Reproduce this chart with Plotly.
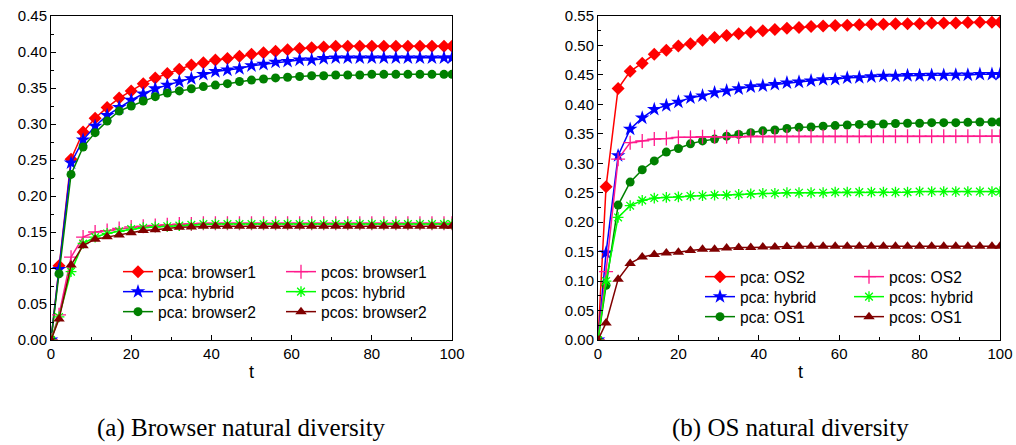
import plotly.graph_objects as go

t = [0, 2, 5, 8, 11, 14, 17, 20, 23, 26, 29, 32, 35, 38, 41, 44, 47, 50, 53, 56,
     59, 62, 65, 68, 71, 74, 77, 80, 83, 86, 89, 92, 95, 98, 100]

# (a) Browser natural diversity
pca_browser1 = [0, 0.103, 0.251, 0.289, 0.308, 0.323, 0.336, 0.346, 0.356, 0.364, 0.370, 0.376,
                0.382, 0.385, 0.389, 0.391, 0.394, 0.397, 0.399, 0.401, 0.403, 0.405, 0.406,
                0.407, 0.408, 0.408, 0.408, 0.408, 0.408, 0.408, 0.408, 0.408, 0.408, 0.408, 0.408]
pca_hybrid_a = [0, 0.098, 0.246, 0.278, 0.297, 0.312, 0.323, 0.333, 0.342, 0.349, 0.354, 0.359,
                0.363, 0.369, 0.373, 0.375, 0.377, 0.381, 0.383, 0.386, 0.387, 0.389, 0.389,
                0.391, 0.392, 0.392, 0.392, 0.392, 0.392, 0.392, 0.392, 0.392, 0.392, 0.392, 0.392]
pca_browser2 = [0, 0.092, 0.230, 0.268, 0.288, 0.304, 0.318, 0.325, 0.332, 0.338, 0.343, 0.346,
                0.349, 0.352, 0.354, 0.356, 0.359, 0.361, 0.3625, 0.364, 0.365, 0.366, 0.367,
                0.367, 0.368, 0.368, 0.368, 0.369, 0.369, 0.369, 0.369, 0.369, 0.369, 0.369, 0.369]
pcos_browser1 = [0, 0.035, 0.115, 0.143, 0.150, 0.152, 0.155, 0.157, 0.158, 0.159, 0.160, 0.161,
                 0.161, 0.162, 0.162, 0.162, 0.162, 0.162, 0.162, 0.162, 0.162, 0.162, 0.162,
                 0.162, 0.162, 0.162, 0.162, 0.162, 0.162, 0.162, 0.162, 0.162, 0.162, 0.162, 0.162]
pcos_hybrid_a = [0, 0.032, 0.095, 0.134, 0.143, 0.148, 0.151, 0.154, 0.156, 0.157, 0.158, 0.159,
                 0.160, 0.161, 0.161, 0.161, 0.161, 0.161, 0.161, 0.161, 0.161, 0.161, 0.161,
                 0.161, 0.161, 0.161, 0.161, 0.161, 0.161, 0.161, 0.161, 0.161, 0.161, 0.161, 0.161]
pcos_browser2 = [0, 0.029, 0.104, 0.131, 0.140, 0.1435, 0.146, 0.149, 0.152, 0.153, 0.155, 0.1565,
                 0.157, 0.158, 0.158, 0.158, 0.158, 0.158, 0.158, 0.158, 0.158, 0.158, 0.158,
                 0.158, 0.158, 0.158, 0.158, 0.158, 0.158, 0.158, 0.158, 0.158, 0.158, 0.158, 0.158]

# (b) OS natural diversity
pca_os2 = [0, 0.260, 0.427, 0.456, 0.470, 0.485, 0.492, 0.499, 0.503, 0.509, 0.5135, 0.517,
           0.520, 0.5225, 0.525, 0.527, 0.529, 0.5305, 0.532, 0.533, 0.534, 0.5345, 0.535,
           0.536, 0.536, 0.537, 0.537, 0.537, 0.538, 0.538, 0.538, 0.539, 0.5395, 0.5395, 0.5395]
pca_hybrid_b = [0, 0.148, 0.313, 0.358, 0.377, 0.3915, 0.398, 0.404, 0.411, 0.4146, 0.420, 0.423,
                0.4265, 0.430, 0.4315, 0.434, 0.4366, 0.438, 0.440, 0.442, 0.4425, 0.445, 0.4455,
                0.447, 0.448, 0.448, 0.449, 0.449, 0.4495, 0.4495, 0.450, 0.450, 0.451, 0.451, 0.451]
pca_os1 = [0, 0.093, 0.229, 0.268, 0.289, 0.304, 0.319, 0.325, 0.333, 0.338, 0.341, 0.346,
           0.349, 0.352, 0.355, 0.3565, 0.359, 0.361, 0.3615, 0.363, 0.364, 0.365, 0.366,
           0.366, 0.3666, 0.3675, 0.368, 0.368, 0.369, 0.369, 0.369, 0.3695, 0.370, 0.370, 0.370]
pcos_os2 = [0, 0.116, 0.307, 0.335, 0.338, 0.341, 0.342, 0.344, 0.344, 0.345, 0.345, 0.345,
            0.345, 0.346, 0.346, 0.346, 0.346, 0.346, 0.346, 0.346, 0.346, 0.346, 0.346,
            0.346, 0.346, 0.346, 0.346, 0.346, 0.346, 0.346, 0.346, 0.346, 0.346, 0.346, 0.346]
pcos_hybrid_b = [0, 0.100, 0.208, 0.228, 0.237, 0.241, 0.242, 0.243, 0.2445, 0.245, 0.246, 0.246,
                 0.247, 0.248, 0.249, 0.249, 0.250, 0.250, 0.250, 0.250, 0.251, 0.251, 0.251,
                 0.251, 0.251, 0.251, 0.251, 0.252, 0.252, 0.252, 0.252, 0.252, 0.252, 0.252, 0.252]
pcos_os1 = [0, 0.029, 0.103, 0.130, 0.141, 0.145, 0.1475, 0.149, 0.152, 0.154, 0.154, 0.156,
            0.157, 0.157, 0.158, 0.158, 0.1587, 0.159, 0.159, 0.159, 0.159, 0.159, 0.159,
            0.159, 0.159, 0.159, 0.159, 0.159, 0.159, 0.159, 0.159, 0.159, 0.159, 0.159, 0.159]

W, H = 1016, 445
FONT = "Liberation Sans, Arial, sans-serif"
SERIF = "Liberation Serif, Times New Roman, serif"

styles = {
    "red": dict(color="#FF0000", symbol="diamond", size=10),
    "blue": dict(color="#0000FF", symbol="star", size=11),
    "green": dict(color="#008000", symbol="circle", size=9),
    "pink": dict(color="#FF1A8C", symbol="cross-thin-open", size=10),
    "lime": dict(color="#00FF00", symbol="asterisk-open", size=9),
    "maroon": dict(color="#800000", symbol="triangle-up", size=10),
}

fig = go.Figure()
legend_layout = {}
legend_count = [0]


def add(y, name, style, xa, ya, lx, ly):
    s = styles[style]
    legend_count[0] += 1
    key = "legend" if legend_count[0] == 1 else "legend%d" % legend_count[0]
    legend_layout[key] = dict(
        x=lx / W, y=1 - ly / H, xanchor="left", yanchor="middle",
        bgcolor="rgba(0,0,0,0)", borderwidth=0,
        font=dict(family=FONT, size=15.6, color="black"))
    fig.add_trace(go.Scatter(
        x=t, y=y, name=name, mode="lines+markers",
        line=dict(color=s["color"], width=1.5),
        marker=dict(symbol=s["symbol"], size=s["size"], color=s["color"],
                    line=dict(color=s["color"], width=1.3 if "open" in s["symbol"] else 0)),
        xaxis=xa, yaxis=ya, legend=key,
    ))


LA1, LA2 = 118, 281   # left legend columns (x of legend box)
LB1, LB2 = 700, 849   # right legend columns
add(pca_browser1, "pca: browser1", "red", "x", "y", LA1, 272)
add(pca_hybrid_a, "pca: hybrid", "blue", "x", "y", LA1, 292)
add(pca_browser2, "pca: browser2", "green", "x", "y", LA1, 312)
add(pcos_browser1, "pcos: browser1", "pink", "x", "y", LA2, 272)
add(pcos_hybrid_a, "pcos: hybrid", "lime", "x", "y", LA2, 292)
add(pcos_browser2, "pcos: browser2", "maroon", "x", "y", LA2, 312)

add(pca_os2, "pca: OS2", "red", "x2", "y2", LB1, 277)
add(pca_hybrid_b, "pca: hybrid", "blue", "x2", "y2", LB1, 297)
add(pca_os1, "pca: OS1", "green", "x2", "y2", LB1, 317)
add(pcos_os2, "pcos: OS2", "pink", "x2", "y2", LB2, 277)
add(pcos_hybrid_b, "pcos: hybrid", "lime", "x2", "y2", LB2, 297)
add(pcos_os1, "pcos: OS1", "maroon", "x2", "y2", LB2, 317)

ydom = [(H - 340) / H, (H - 16) / H]
xaxis_common = dict(range=[0, 100], dtick=20, ticks="inside", ticklen=5, tickwidth=1,
                    tickcolor="black", showline=True, linecolor="black", linewidth=1,
                    mirror=True, showgrid=False, zeroline=False, automargin=False,
                    tickfont=dict(family=FONT, size=15, color="black"),
                    minor=dict(dtick=10, ticks="inside", ticklen=3, tickcolor="black"))
yaxis_common = dict(dtick=0.05, tickformat=".2f", ticks="inside", ticklen=5, tickwidth=1,
                    tickcolor="black", showline=True, linecolor="black", linewidth=1,
                    mirror=True, showgrid=False, zeroline=False, automargin=False,
                    tickfont=dict(family=FONT, size=15, color="black"),
                    minor=dict(dtick=0.025, ticks="inside", ticklen=3, tickcolor="black"))

fig.update_layout(
    width=W, height=H,
    margin=dict(l=0, r=0, t=0, b=0),
    paper_bgcolor="white", plot_bgcolor="white",
    xaxis=dict(domain=[51 / W, 452 / W], anchor="y", **xaxis_common),
    yaxis=dict(domain=ydom, range=[0, 0.45], anchor="x", **yaxis_common),
    xaxis2=dict(domain=[598 / W, 1000 / W], anchor="y2", **xaxis_common),
    yaxis2=dict(domain=ydom, range=[0, 0.55], anchor="x2", **yaxis_common),
    showlegend=True,
    annotations=[
        dict(text="t", x=251 / W, y=1 - 372 / H, xref="paper", yref="paper",
             xanchor="center", yanchor="middle",
             showarrow=False, font=dict(family=FONT, size=18, color="black")),
        dict(text="t", x=800 / W, y=1 - 372 / H, xref="paper", yref="paper",
             xanchor="center", yanchor="middle",
             showarrow=False, font=dict(family=FONT, size=18, color="black")),
        dict(text="(a) Browser natural diversity", x=241 / W, y=1 - 428 / H,
             xref="paper", yref="paper", xanchor="center", yanchor="middle", showarrow=False,
             font=dict(family=SERIF, size=25, color="black")),
        dict(text="(b) OS natural diversity", x=790 / W, y=1 - 428 / H,
             xref="paper", yref="paper", xanchor="center", yanchor="middle", showarrow=False,
             font=dict(family=SERIF, size=25, color="black")),
    ],
)
fig.update_layout(**legend_layout)

fig.write_html("out.html")
